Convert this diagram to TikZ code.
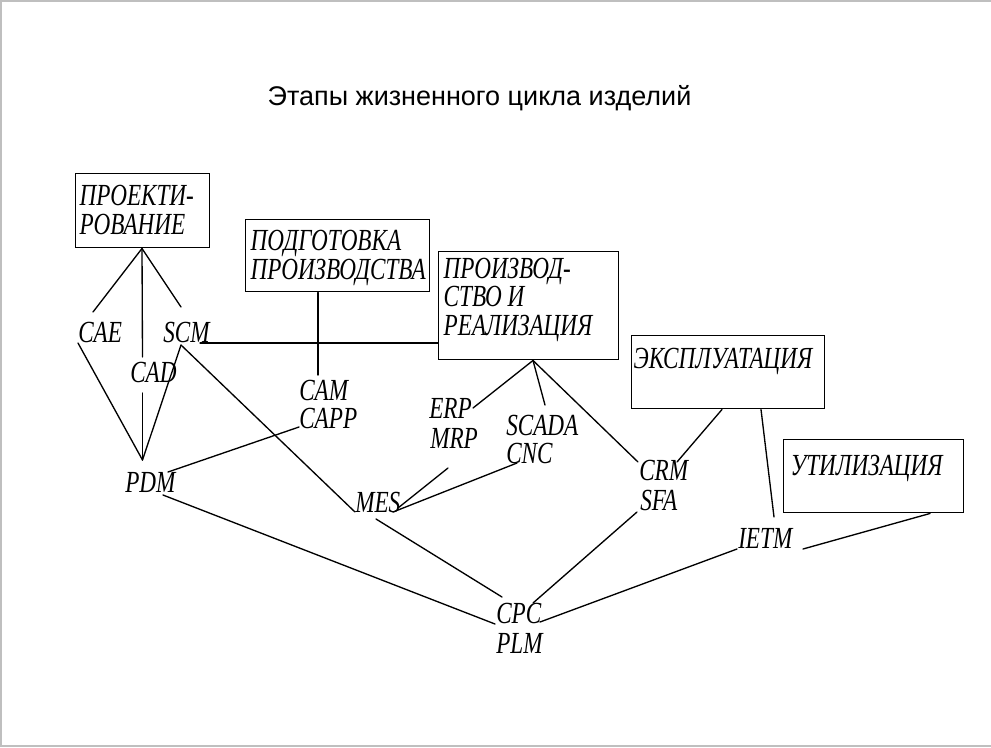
\documentclass[tikz,border=0pt]{standalone}
\usepackage{fontspec}
\setmainfont{Liberation Serif}
\newfontfamily\titlefont{Liberation Sans}
\newfontfamily\lblfont{Liberation Serif}[FakeStretch=0.755]
% stage box contents: width, height, top gap, left inset, lines
\newcommand\stagetext[5]{\parbox[c][#2][t]{#1}{%
  \lblfont\itshape\fontsize{23pt}{21.4pt}\selectfont
  \vspace*{#3}\leftskip=#4\relax\rightskip=0pt plus 1fil\relax
  #5}}
\begin{document}
\begin{tikzpicture}[x=0.75pt,y=-0.75pt,
  conn/.style={line width=1pt, line cap=round},
  lbl/.style={inner sep=0pt, anchor=base west,
    font=\lblfont\itshape\fontsize{23pt}{21.4pt}\selectfont},
  stage/.style={draw, line width=1.1pt, inner sep=0pt, anchor=north west},
  frame/.style={draw=black!25, line width=1.5pt}
]
\useasboundingbox (0,0) rectangle (991,747);
% slide frame
\draw[frame] (0,1) -- (991,1);
\draw[frame] (0.75,0) -- (0.75,747);
\draw[frame] (0,745.5) -- (991,745.5);

% title
\node[anchor=base, inner sep=0pt, font=\titlefont\fontsize{20.25pt}{24pt}\selectfont]
  (title) at (479.5,105) {Этапы жизненного цикла изделий};

% life-cycle stages
\node[stage] (proj) at (75,173)
  {\stagetext{100.5pt}{55.5pt}{8.6pt}{3pt}{ПРОЕКТИ-\\РОВАНИЕ}};
\node[stage] (podg) at (245,219)
  {\stagetext{138pt}{54pt}{7.9pt}{3.75pt}{ПОДГОТОВКА\\ПРОИЗВОДСТВА}};
\node[stage] (proizv) at (438,251)
  {\stagetext{135pt}{81pt}{4.8pt}{3.75pt}{ПРОИЗВОД-\\СТВО И\\РЕАЛИЗАЦИЯ}};
\node[stage] (ekspl) at (631,335)
  {\stagetext{144.75pt}{54.75pt}{9.4pt}{1.5pt}{ЭКСПЛУАТАЦИЯ}};
\node[stage] (util) at (783,439)
  {\stagetext{135pt}{54.75pt}{11.7pt}{5.25pt}{УТИЛИЗАЦИЯ}};

% systems
\node[lbl] (cae)   at (78,342)  {CAE};
\node[lbl] (scm)   at (163,342) {SCM};
\node[lbl] (cad)   at (130,382) {CAD};
\node[lbl] (cam)   at (299,400) {CAM};
\node[lbl] (capp)  at (299,428) {CAPP};
\node[lbl] (pdm)   at (125,492) {PDM};
\node[lbl] (mes)   at (355,512) {MES};
\node[lbl] (erp)   at (429,418) {ERP};
\node[lbl] (mrp)   at (430,448) {MRP};
\node[lbl] (scada) at (506,435) {SCADA};
\node[lbl] (cnc)   at (506,463) {CNC};
\node[lbl] (crm)   at (639,480) {CRM};
\node[lbl] (sfa)   at (640,510) {SFA};
\node[lbl] (ietm)  at (738,548) {IETM};
\node[lbl] (cpc)   at (496,623) {CPC};
\node[lbl] (plm)   at (496,653) {PLM};

% links
\draw[conn] ([shift={(67,0)}]proj.south west) -- ([shift={(15,-30)}]cae.base west);
\draw[conn] ([shift={(67,0)}]proj.south west) -- ([shift={(12.5,-25)}]cad.base west);
\draw[conn] ([shift={(67,0)}]proj.south west) -- ([shift={(18,-35)}]scm.base west);
\draw[conn] ([shift={(0,1)}]cae.base west) -- ([shift={(17.5,-32)}]pdm.base west);
\draw[conn] ([shift={(12.5,11)}]cad.base west) -- ([shift={(17.5,-32)}]pdm.base west);
\draw[conn] ([shift={(18,3)}]scm.base west) -- ([shift={(17.5,-32)}]pdm.base west);
\draw[conn] ([shift={(37,1)}]scm.base west) -- ([shift={(0,92)}]proizv.north west);
\draw[conn] ([shift={(73,0)}]podg.south west) -- ([shift={(19,-25)}]cam.base west);
\draw[conn] ([shift={(18,3)}]scm.base west) -- (mes.base west);
\draw[conn] ([shift={(0,-1)}]capp.base west) -- ([shift={(43,-20)}]pdm.base west);
\draw[conn] ([shift={(38,3)}]pdm.base west) -- ([shift={(-1,1)}]cpc.base west);
\draw[conn] ([shift={(21,7)}]mes.base west) -- ([shift={(6,-26)}]cpc.base west);
\draw[conn] ([shift={(95,0)}]proizv.south west) -- ([shift={(44,-10)}]erp.base west);
\draw[conn] ([shift={(95,0)}]proizv.south west) -- ([shift={(39,-30)}]scada.base west);
\draw[conn] ([shift={(95,0)}]proizv.south west) -- ([shift={(-1,-18)}]crm.base west);
\draw[conn] ([shift={(18,20)}]mrp.base west) -- ([shift={(43,-4)}]mes.base west);
\draw[conn] ([shift={(11,0)}]cnc.base west) -- ([shift={(38,0)}]mes.base west);
\draw[conn] ([shift={(91,0)}]ekspl.south west) -- ([shift={(38,-18)}]crm.base west);
\draw[conn] ([shift={(130,0)}]ekspl.south west) -- ([shift={(36,-31)}]ietm.base west);
\draw[conn] ([shift={(147,0)}]util.south west) -- ([shift={(65,1)}]ietm.base west);
\draw[conn] ([shift={(-1,1)}]ietm.base west) -- ([shift={(44,-1)}]cpc.base west);
\draw[conn] ([shift={(-3,2)}]sfa.base west) -- ([shift={(37,-20)}]cpc.base west);
\end{tikzpicture}
\end{document}
